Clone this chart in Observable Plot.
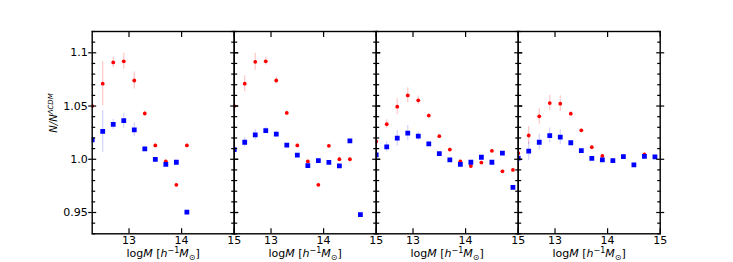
<!DOCTYPE html>
<html><head><meta charset="utf-8">
<script src="https://cdn.jsdelivr.net/npm/d3@7"></script>
<script src="https://cdn.jsdelivr.net/npm/@observablehq/plot@0.6"></script>
<style>body{margin:0;background:#fff}</style>
</head><body><div id="chart"></div>
<script>
const massBins = [12.3,12.5,12.7,12.9,13.1,13.3,13.5,13.7,13.9,14.1,14.3,14.5,14.7,14.9];
const panels = [0,1,2,3];

const redP1 = [1.050,1.071,1.091,1.092,1.074,1.043,1.013,0.998,0.976,1.013,null,null,null,null];
const redP2 = [1.050,1.071,1.0915,1.092,1.074,1.0435,1.013,0.998,0.976,1.0126,1.000,1.000,null,null];
const redP3 = [1.0167,1.033,1.0494,1.060,1.0554,1.041,1.0217,1.0091,0.998,0.9937,0.9969,1.0079,0.9887,0.990];
const redP4 = [1.0057,1.0223,1.0403,1.0528,1.0522,1.0428,1.0272,1.0114,1.0031,0.999,1.0025,0.9947,1.0045,1.0022];

const redErrP1 = [0.02,0.0207,0.005,0.0075,0.008,0.002,0.0015,0.0015,0.0015,0.0015,0,0,0,0];
const redErrP2 = [0.005,0.0075,0.008,0.0036,0.003,0.002,0.0015,0.0015,0.0015,0.0015,0.0015,0.0015,0,0];
const redErrP3 = [0.004,0.0042,0.0075,0.0072,0.004,0.002,0.0015,0.0015,0.0015,0.0015,0.0015,0.0015,0.0015,0.0015];
const redErrP4 = [0.005,0.0085,0.0074,0.0074,0.0074,0.002,0.0015,0.0015,0.0015,0.0015,0.0015,0.0015,0.0015,0.0015];

const blueP1 = [1.0182,1.0261,1.0327,1.0362,1.0277,1.0097,1.000,0.9953,0.9972,0.9503,null,null,null,null];
const blueP2 = [1.0091,1.016,1.023,1.027,1.0236,1.0132,1.0038,0.994,0.9987,0.997,0.9937,1.0173,0.948,null];
const blueP3 = [1.0041,1.0117,1.0198,1.0245,1.0217,1.0145,1.0053,0.9994,0.9953,0.9972,1.0019,0.9972,1.0057,0.9736];
const blueP4 = [1.0011,1.0077,1.016,1.0223,1.0208,1.0155,1.0082,1.0008,0.9994,0.9987,1.0025,0.9947,1.0028,1.0022];

const blueErrP1 = [0.02,0.0196,0.0047,0.007,0.0063,0.002,0.0015,0.0015,0.0015,0.0015,0,0,0,0];
const blueErrP2 = [0.004,0.0044,0.005,0.003,0.003,0.002,0.0015,0.0015,0.0015,0.0015,0.0015,0.0015,0.0015,0];
const blueErrP3 = [0.005,0.0047,0.0074,0.0072,0.004,0.002,0.0015,0.0015,0.0015,0.0015,0.0015,0.0015,0.0015,0.0015];
const blueErrP4 = [0.005,0.0087,0.0074,0.0071,0.0069,0.002,0.0015,0.0015,0.0015,0.0015,0.0015,0.0015,0.0015,0.0015];

const yMajorTicks = [0.95, 1.0, 1.05, 1.1];
const yMinorTicks = [0.93,0.94,0.96,0.97,0.98,0.99,1.01,1.02,1.03,1.04,1.06,1.07,1.08,1.09,1.11,1.12];
const xTicks = [13, 14, 15];
const yLabelFormat = d => d.toFixed(2).replace(/0$/, "");
const xLabelFormat = d => d.toFixed(0);
const X_TITLE = "logM [h-1M]";
const Y_TITLE = "N/N";

function rows(vals, errs) {
  const out = [];
  vals.forEach((p, pi) => p.forEach((v, i) => {
    if (v != null) out.push({panel: panels[pi], x: massBins[i], y: v, err: errs[pi][i]});
  }));
  return out;
}
const redData = rows([redP1, redP2, redP3, redP4], [redErrP1, redErrP2, redErrP3, redErrP4]);
const blueData = rows([blueP1, blueP2, blueP3, blueP4], [blueErrP1, blueErrP2, blueErrP3, blueErrP4]);

const FS = 11;
const chart = Plot.plot({
  width: 733, height: 262,
  marginLeft: 91.7, marginRight: 73.3, marginTop: 31, marginBottom: 28.7,
  style: {fontFamily: "DejaVu Sans", fontSize: FS + "px", background: "#fff", color: "#000"},
  fx: {domain: panels, padding: 0, round: false, axis: null},
  x: {domain: [12.3, 15], axis: null},
  y: {domain: [0.93, 1.12], axis: null},
  marks: [
    Plot.ruleX(redData, {fx: "panel", x: "x", y1: d => d.y - d.err, y2: d => d.y + d.err, stroke: "#ff0000", strokeOpacity: 0.22, strokeWidth: 1.2, clip: true}),
    Plot.dot(redData, {fx: "panel", x: "x", y: "y", r: 1.9, fill: "#ff0000", clip: true}),
    Plot.ruleX(blueData, {fx: "panel", x: "x", y1: d => d.y - d.err, y2: d => d.y + d.err, stroke: "#0000ff", strokeOpacity: 0.18, strokeWidth: 1.2, clip: true}),
    Plot.dot(blueData, {fx: "panel", x: "x", y: "y", r: 2.7, symbol: "square", fill: "#0000ff", clip: true}),
    Plot.frame({stroke: "#000", strokeWidth: 1.4}),
    Plot.axisY({anchor: "left", ticks: yMajorTicks, tickSize: 3.5, tickPadding: 1, tickFormat: yLabelFormat, label: null, fontSize: FS, strokeWidth: 1.2}),
    Plot.axisY({anchor: "left", ticks: yMajorTicks, tickSize: -4.5, fill: "none", label: null, facetAnchor: null, strokeWidth: 1.2}),
    Plot.axisY({anchor: "left", ticks: yMinorTicks, tickSize: -3.5, fill: "none", label: null, facetAnchor: null, strokeWidth: 1.2}),
    Plot.axisY({anchor: "right", ticks: yMajorTicks, tickSize: 3.5, fill: "none", label: null, facetAnchor: null, strokeWidth: 1.2}),
    Plot.axisY({anchor: "right", ticks: yMajorTicks, tickSize: -4.5, fill: "none", label: null, facetAnchor: null, strokeWidth: 1.2}),
    Plot.axisY({anchor: "right", ticks: yMinorTicks, tickSize: -3.5, fill: "none", label: null, facetAnchor: null, strokeWidth: 1.2}),
    Plot.axisX({anchor: "bottom", ticks: xTicks, tickSize: 0, tickPadding: 2.5, tickFormat: xLabelFormat, label: null, fontSize: FS}),
    Plot.axisX({anchor: "bottom", ticks: xTicks, tickSize: -5, fill: "none", label: null, strokeWidth: 1.2}),
    Plot.axisX({anchor: "top", ticks: xTicks, tickSize: -5, fill: "none", label: null, facetAnchor: null, strokeWidth: 1.2}),
    Plot.text(panels, {fx: d => d, frameAnchor: "bottom", dy: 23.5, text: () => X_TITLE, fontSize: FS}),
    Plot.text([panels[0]], {fx: d => d, frameAnchor: "left", dx: -38, rotate: -90, text: () => Y_TITLE, fontSize: 10})
  ]
});
document.getElementById("chart").appendChild(chart);

const svg = d3.select(chart);
svg.selectAll("text").filter(function () { return this.textContent === X_TITLE; }).each(function () {
  const t = d3.select(this);
  t.text(null);
  t.append("tspan").text("log");
  t.append("tspan").attr("font-style", "italic").text("M");
  t.append("tspan").text(" [");
  t.append("tspan").attr("font-style", "italic").text("h");
  t.append("tspan").attr("font-size", "8px").attr("dy", "-4").text("\u22121");
  t.append("tspan").attr("font-style", "italic").attr("dy", "4").text("M");
  t.append("tspan").attr("font-size", "8px").attr("dy", "2.5").text("\u2299");
  t.append("tspan").attr("dy", "-2.5").text("]");
});
svg.selectAll("text").filter(function () { return this.textContent === Y_TITLE; }).each(function () {
  const t = d3.select(this);
  t.text(null);
  t.append("tspan").attr("font-style", "italic").text("N/N");
  t.append("tspan").attr("font-style", "italic").attr("font-size", "7px").attr("dy", "-4").text("\u039BCDM");
});
</script>
</body></html>
